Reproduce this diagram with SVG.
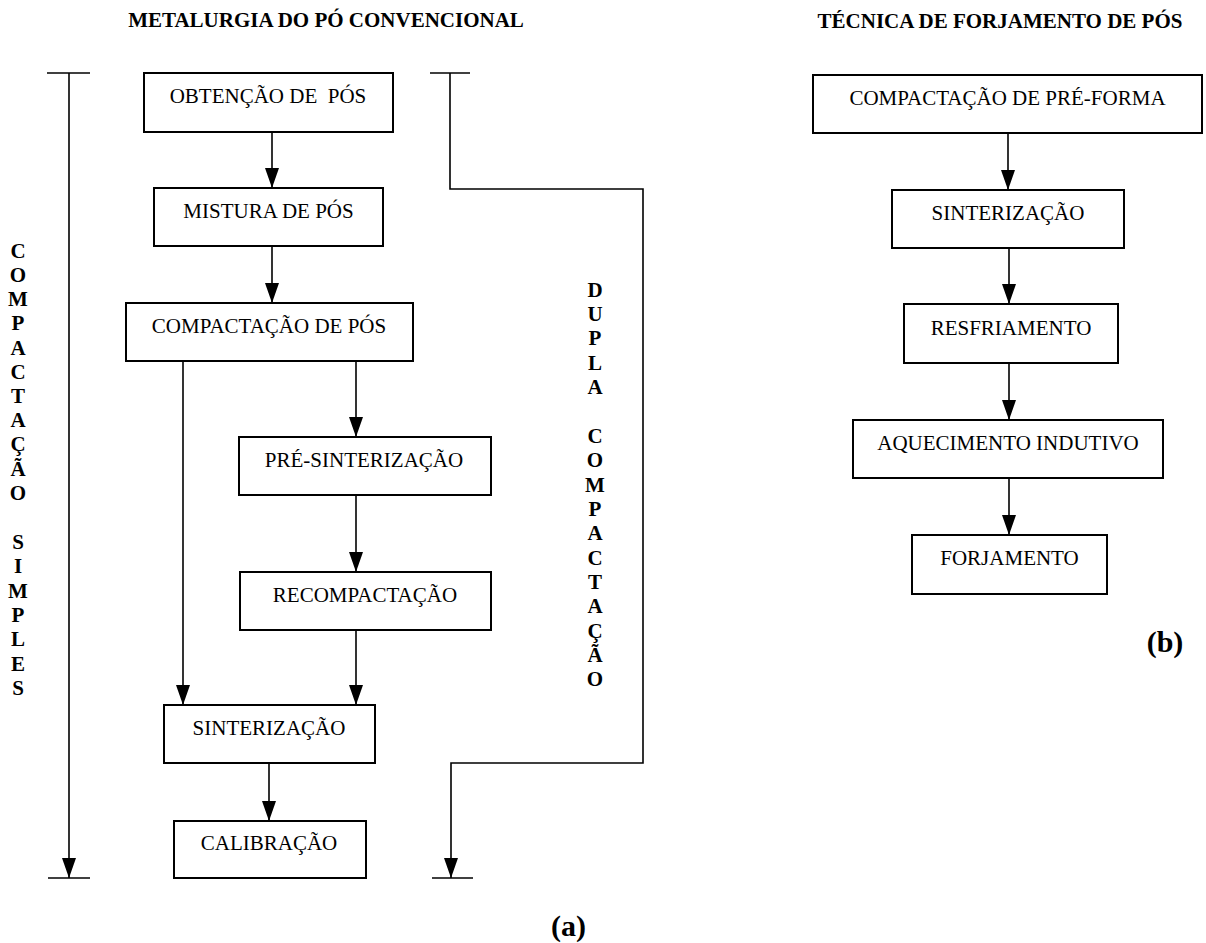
<svg xmlns="http://www.w3.org/2000/svg" width="1206" height="943" viewBox="0 0 1206 943">
<style>
.box{fill:#fff;stroke:#000;stroke-width:2}
.lbl{font-family:"Liberation Serif","Times New Roman",serif;font-size:21px;fill:#000;text-anchor:middle}
.ttl{font-family:"Liberation Serif","Times New Roman",serif;font-size:21px;font-weight:bold;fill:#000;text-anchor:middle}
.side{font-family:"Liberation Serif","Times New Roman",serif;font-size:21px;font-weight:bold;fill:#000;text-anchor:middle}
.cap{font-family:"Liberation Serif","Times New Roman",serif;font-size:30px;font-weight:bold;fill:#000;text-anchor:middle}
.ln{fill:none;stroke:#000;stroke-width:1.6}
.arr{fill:none;stroke:#000;stroke-width:1.6;marker-end:url(#ah)}
</style>
<defs>
<marker id="ah" markerUnits="userSpaceOnUse" viewBox="0 0 20 14" markerWidth="20" markerHeight="14" refX="20" refY="7" orient="auto">
<path d="M0,0 L20,7 L0,14 z" fill="#000"/>
</marker>
</defs>
<rect width="1206" height="943" fill="#fff"/>

<text class="ttl" x="326" y="27">METALURGIA DO PÓ CONVENCIONAL</text>
<text class="ttl" x="1000" y="28">TÉCNICA DE FORJAMENTO DE PÓS</text>

<g id="connectors">
<line class="ln" x1="47" y1="73" x2="90" y2="73"/>
<line class="arr" x1="69" y1="73" x2="69" y2="878"/>
<line class="ln" x1="48" y1="878" x2="90" y2="878"/>
<line class="ln" x1="430" y1="73" x2="470" y2="73"/>
<polyline class="arr" points="450,73 450,189 643,189 643,763 451,763 451,878"/>
<line class="ln" x1="432" y1="878" x2="473" y2="878"/>
<line class="arr" x1="272" y1="132" x2="272" y2="188"/>
<line class="arr" x1="272" y1="246" x2="272" y2="303"/>
<line class="arr" x1="183" y1="361" x2="183" y2="705"/>
<line class="arr" x1="356" y1="361" x2="356" y2="437"/>
<line class="arr" x1="356" y1="495" x2="356" y2="572"/>
<line class="arr" x1="356" y1="630" x2="356" y2="705"/>
<line class="arr" x1="269" y1="763" x2="269" y2="821"/>
<line class="arr" x1="1008" y1="133" x2="1008" y2="190"/>
<line class="arr" x1="1009" y1="248" x2="1009" y2="304"/>
<line class="arr" x1="1009" y1="363" x2="1009" y2="420"/>
<line class="arr" x1="1009" y1="478" x2="1009" y2="535"/>
</g>

<g id="n-obtencao"><rect class="box" x="144" y="73" width="249" height="59"/><text class="lbl" x="268" y="103" xml:space="preserve">OBTENÇÃO DE  PÓS</text></g>
<g id="n-mistura"><rect class="box" x="154" y="188" width="229" height="58"/><text class="lbl" x="268.5" y="218">MISTURA DE PÓS</text></g>
<g id="n-compactacao"><rect class="box" x="126" y="303" width="287" height="58"/><text class="lbl" x="269" y="333">COMPACTAÇÃO DE PÓS</text></g>
<g id="n-pre-sint"><rect class="box" x="239" y="437" width="252" height="58"/><text class="lbl" x="364" y="467">PRÉ-SINTERIZAÇÃO</text></g>
<g id="n-recomp"><rect class="box" x="240" y="572" width="251" height="58"/><text class="lbl" x="365" y="602">RECOMPACTAÇÃO</text></g>
<g id="n-sint"><rect class="box" x="164" y="705" width="211" height="58"/><text class="lbl" x="269" y="735">SINTERIZAÇÃO</text></g>
<g id="n-calib"><rect class="box" x="174" y="821" width="192" height="57"/><text class="lbl" x="269" y="850">CALIBRAÇÃO</text></g>

<g id="n-pre-forma"><rect class="box" x="813" y="75" width="389" height="58"/><text class="lbl" x="1007.5" y="105">COMPACTAÇÃO DE PRÉ-FORMA</text></g>
<g id="n-sint-b"><rect class="box" x="892" y="190" width="232" height="58"/><text class="lbl" x="1008" y="220">SINTERIZAÇÃO</text></g>
<g id="n-resfr"><rect class="box" x="904" y="304" width="214" height="59"/><text class="lbl" x="1011" y="335">RESFRIAMENTO</text></g>
<g id="n-aquec"><rect class="box" x="853" y="420" width="310" height="58"/><text class="lbl" x="1008" y="450">AQUECIMENTO INDUTIVO</text></g>
<g id="n-forj"><rect class="box" x="912" y="535" width="195" height="59"/><text class="lbl" x="1009.5" y="565">FORJAMENTO</text></g>

<g id="label-simples">
<text class="side"><tspan x="18" y="258">C</tspan><tspan x="18" y="282">O</tspan><tspan x="18" y="306">M</tspan><tspan x="18" y="330">P</tspan><tspan x="18" y="355">A</tspan><tspan x="18" y="379">C</tspan><tspan x="18" y="403">T</tspan><tspan x="18" y="427">A</tspan><tspan x="18" y="451">Ç</tspan><tspan x="18" y="476">Ã</tspan><tspan x="18" y="500">O</tspan><tspan x="18" y="549">S</tspan><tspan x="18" y="573">I</tspan><tspan x="18" y="598">M</tspan><tspan x="18" y="622">P</tspan><tspan x="18" y="646">L</tspan><tspan x="18" y="671">E</tspan><tspan x="18" y="695">S</tspan></text>
</g>
<g id="label-dupla">
<text class="side"><tspan x="595" y="297">D</tspan><tspan x="595" y="321">U</tspan><tspan x="595" y="345">P</tspan><tspan x="595" y="370">L</tspan><tspan x="595" y="394">A</tspan><tspan x="595" y="443">C</tspan><tspan x="595" y="467">O</tspan><tspan x="595" y="492">M</tspan><tspan x="595" y="516">P</tspan><tspan x="595" y="540">A</tspan><tspan x="595" y="565">C</tspan><tspan x="595" y="589">T</tspan><tspan x="595" y="613">A</tspan><tspan x="595" y="638">Ç</tspan><tspan x="595" y="662">Ã</tspan><tspan x="595" y="686">O</tspan></text>
</g>

<text class="cap" x="568.5" y="936">(a)</text>
<text class="cap" x="1165" y="652">(b)</text>
</svg>
